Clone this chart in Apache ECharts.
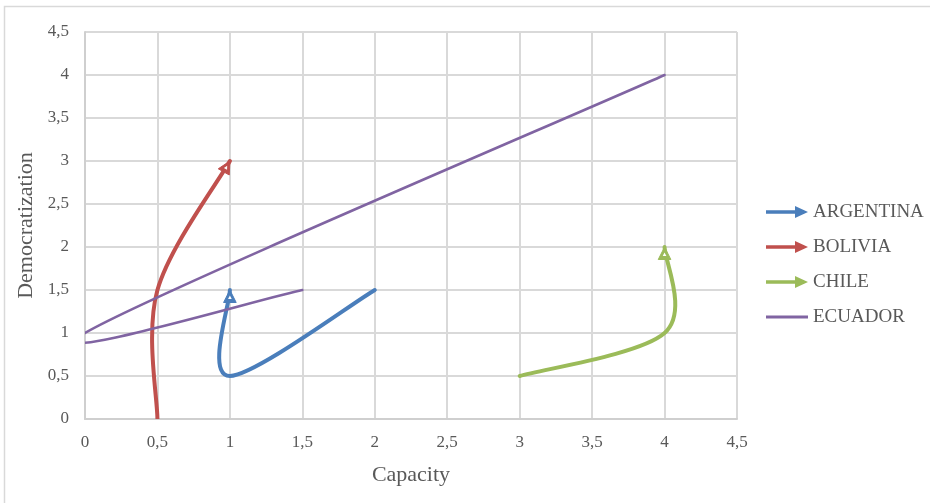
<!DOCTYPE html>
<html>
<head>
<meta charset="utf-8">
<title>Capacity and Democratization</title>
<script src="https://cdn.jsdelivr.net/npm/echarts@6/dist/echarts.min.js"></script>
<style>
  html, body { margin: 0; padding: 0; background: #ffffff; }
  #chart { width: 930px; height: 503px; }
</style>
</head>
<body>
<div id="chart"></div>
<script>
// Trajectories of each country in (capacity, democratization) space
const argentina = [[2, 1.5], [1, 0.5], [1, 1.5]];
const bolivia   = [[0.5, 0], [0.5, 1.5], [1, 3]];
const chile     = [[3, 0.5], [4, 1], [4, 2]];
const ecuador   = [[1.5, 1.5], [0, 1], [4, 4]];

const xTickLabels = ['0', '0,5', '1', '1,5', '2', '2,5', '3', '3,5', '4', '4,5'];
const yTickLabels = ['0', '0,5', '1', '1,5', '2', '2,5', '3', '3,5', '4', '4,5'];

const colors = {
  ARGENTINA: '#4a7ebb',
  BOLIVIA: '#c0504d',
  CHILE: '#9bbb59',
  ECUADOR: '#8064a2'
};

const FONT = '"Liberation Serif", "Times New Roman", serif';
const TEXT = '#595959';
const GRID = '#d9d9d9';

// Smoothed trajectory: cubic Bezier segments through the points (Catmull-Rom
// tangents at 1/6 of the neighbour chord), optionally ending in an arrow head.
function makeRenderer(color, width, withArrow) {
  return function (params, api) {
    if (params.dataIndexInside !== 0) return null;
    const n = params.dataInsideLength;
    const p = [];
    for (let i = 0; i < n; i++) {
      p.push(api.coord([api.value(0, i), api.value(1, i)]));
    }
    let d = 'M' + p[0][0] + ',' + p[0][1];
    let lastC2 = p[0];
    for (let i = 0; i < n - 1; i++) {
      const prev = p[i - 1] || p[i];
      const next2 = p[i + 2] || p[i + 1];
      const c1 = [p[i][0] + (p[i + 1][0] - prev[0]) / 6, p[i][1] + (p[i + 1][1] - prev[1]) / 6];
      const c2 = [p[i + 1][0] - (next2[0] - p[i][0]) / 6, p[i + 1][1] - (next2[1] - p[i][1]) / 6];
      d += 'C' + c1[0] + ',' + c1[1] + ' ' + c2[0] + ',' + c2[1] + ' ' + p[i + 1][0] + ',' + p[i + 1][1];
      lastC2 = c2;
    }
    const children = [{
      type: 'path',
      shape: { pathData: d },
      style: { fill: 'none', stroke: color, lineWidth: width, lineCap: 'round', lineJoin: 'round' }
    }];
    if (withArrow) {
      const tip = p[n - 1];
      let dx = tip[0] - lastC2[0], dy = tip[1] - lastC2[1];
      const len = Math.sqrt(dx * dx + dy * dy) || 1;
      dx /= len; dy /= len;
      const nx = -dy, ny = dx;
      const L = 12.5, W = 6.3;
      const bx = tip[0] - dx * L, by = tip[1] - dy * L;
      children.push({
        type: 'polygon',
        shape: { points: [tip, [bx + nx * W, by + ny * W], [bx - nx * W, by - ny * W]] },
        style: { fill: color, stroke: color, lineWidth: 1, lineJoin: 'miter' }
      });
      const ix = tip[0] - dx * 5.5, iy = tip[1] - dy * 5.5;
      const jx = tip[0] - dx * 9, jy = tip[1] - dy * 9;
      children.push({
        type: 'polygon',
        shape: { points: [[ix, iy], [jx + nx * 1.8, jy + ny * 1.8], [jx - nx * 1.8, jy - ny * 1.8]] },
        style: { fill: '#ffffff' }
      });
    }
    return { type: 'group', children: children };
  };
}

function trajectory(name, data, width, withArrow) {
  return {
    name: name,
    type: 'custom',
    coordinateSystem: 'cartesian2d',
    clip: true,
    silent: true,
    data: data,
    encode: { x: 0, y: 1 },
    itemStyle: { color: colors[name] },
    renderItem: makeRenderer(colors[name], width, withArrow),
    z: 3
  };
}

const arrowIcon = 'path://M0,4.3L29,4.3L29,0L42,6L29,12L29,7.7L0,7.7Z';
const lineIcon = 'path://M0,0L0,0ZM0,4.6L42,4.6L42,7.4L0,7.4ZM42,12L42,12Z';

const chart = echarts.init(document.getElementById('chart'), null, { renderer: 'canvas' });

chart.setOption({
  animation: false,
  backgroundColor: '#ffffff',
  textStyle: { fontFamily: FONT, color: TEXT },
  graphic: [{
    type: 'rect',
    shape: { x: 4.5, y: 6.5, width: 1000, height: 1000 },
    style: { fill: 'none', stroke: GRID, lineWidth: 1.5 },
    silent: true,
    z: -10
  }],
  grid: { left: 85, right: 193, top: 32, bottom: 84, containLabel: false },
  legend: {
    orient: 'vertical',
    left: 766,
    top: 202,
    padding: 0,
    itemWidth: 42,
    itemHeight: 12,
    itemGap: 15,
    selectedMode: false,
    textStyle: { fontFamily: FONT, fontSize: 19, color: TEXT, lineHeight: 20 },
    data: [
      { name: 'ARGENTINA', icon: arrowIcon, itemStyle: { color: colors.ARGENTINA, borderWidth: 0 } },
      { name: 'BOLIVIA', icon: arrowIcon, itemStyle: { color: colors.BOLIVIA, borderWidth: 0 } },
      { name: 'CHILE', icon: arrowIcon, itemStyle: { color: colors.CHILE, borderWidth: 0 } },
      { name: 'ECUADOR', icon: lineIcon, itemStyle: { color: colors.ECUADOR, borderWidth: 0 } }
    ]
  },
  xAxis: {
    type: 'value',
    min: 0, max: 4.5, interval: 0.5,
    name: 'Capacity',
    nameLocation: 'middle',
    nameGap: 45,
    nameTextStyle: { fontFamily: FONT, fontSize: 22, color: TEXT },
    axisLine: { show: true, onZero: false, lineStyle: { color: '#cfcfcf', width: 2 } },
    axisTick: { show: false },
    splitLine: { show: true, lineStyle: { color: GRID, width: 2 } },
    axisLabel: {
      margin: 15, fontFamily: FONT, fontSize: 17, color: TEXT,
      formatter: v => xTickLabels[Math.round(v / 0.5)]
    }
  },
  yAxis: {
    type: 'value',
    min: 0, max: 4.5, interval: 0.5,
    name: 'Democratization',
    nameLocation: 'middle',
    nameGap: 47,
    nameTextStyle: { fontFamily: FONT, fontSize: 22, color: TEXT },
    axisLine: { show: true, onZero: false, lineStyle: { color: '#cfcfcf', width: 2 } },
    axisTick: { show: false },
    splitLine: { show: true, lineStyle: { color: GRID, width: 2 } },
    axisLabel: {
      margin: 16, fontFamily: FONT, fontSize: 17, color: TEXT,
      formatter: v => yTickLabels[Math.round(v / 0.5)]
    }
  },
  series: [
    trajectory('ARGENTINA', argentina, 4, true),
    trajectory('BOLIVIA', bolivia, 4, true),
    trajectory('CHILE', chile, 4, true),
    trajectory('ECUADOR', ecuador, 2.6, false)
  ]
});
</script>
</body>
</html>
